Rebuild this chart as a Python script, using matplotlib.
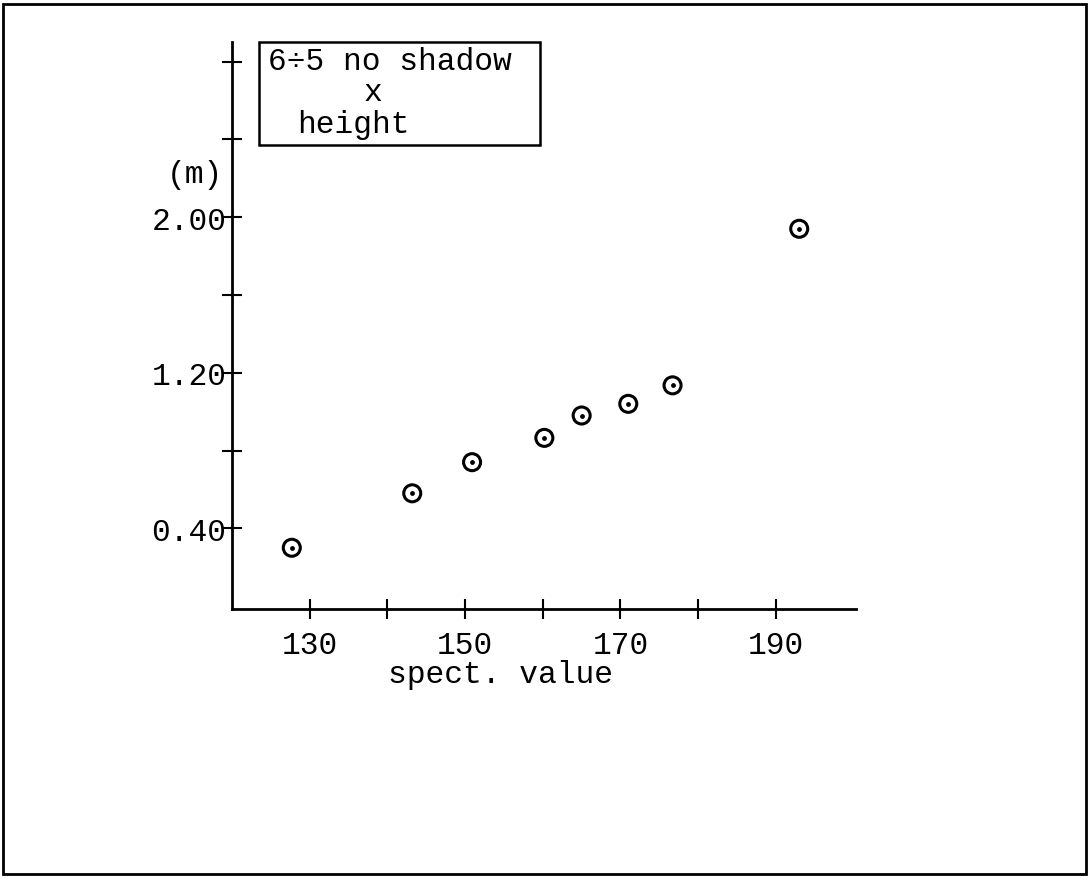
import matplotlib
matplotlib.use("Agg")
import matplotlib.pyplot as plt
from matplotlib.patches import Rectangle

plt.rcParams["font.family"] = ["Liberation Mono", "DejaVu Sans Mono"]

# spectral value vs height
spect = [127.7, 143.2, 150.9, 160.2, 165.0, 171.0, 176.7, 193.0]
height = [0.30, 0.58, 0.74, 0.865, 0.98, 1.04, 1.135, 1.94]

x_ticks = [130, 140, 150, 160, 170, 180, 190]
x_labels = ["130", "", "150", "", "170", "", "190"]
y_ticks = [0.4, 0.8, 1.2, 1.6, 2.0, 2.4, 2.8]
y_labels = ["0.40", "", "1.20", "", "2.00", "", ""]

FS = 22.5

fig = plt.figure(figsize=(10.89, 8.79), dpi=100)
ax = fig.add_axes([0.213, 0.306, 0.573, 0.645])

# circle with a dot in the middle
ax.scatter(spect, height, s=150, facecolors="none", edgecolors="black",
           linewidths=2.2, zorder=3)
ax.scatter(spect, height, s=6, color="black", zorder=4)

ax.set_xlim(120, 200.3)
ax.set_ylim(-0.015, 2.9)

for s in ["top", "right"]:
    ax.spines[s].set_visible(False)
for s in ["left", "bottom"]:
    ax.spines[s].set_linewidth(2.0)

ax.set_xticks(x_ticks)
ax.set_xticklabels(x_labels)
ax.set_yticks(y_ticks)
ax.set_yticklabels(y_labels)
ax.tick_params(axis="both", direction="inout", length=14, width=1.5,
               labelsize=FS)
ax.tick_params(axis="x", pad=8)
ax.tick_params(axis="y", pad=-3)

ax.text(-0.014, 0.767, "(m)", transform=ax.transAxes, ha="right",
        va="center", fontsize=FS)
ax.text(0.43, -0.129, "spect. value", transform=ax.transAxes, ha="center",
        va="baseline", fontsize=FS)

# boxed caption in the top-left corner
ax.add_patch(Rectangle((0.043, 0.818), 0.451, 0.182, transform=ax.transAxes,
                       fill=False, edgecolor="black", linewidth=1.8,
                       clip_on=False))
ax.text(0.058, 0.952, "6÷5 no shadow", transform=ax.transAxes,
        va="baseline", fontsize=FS)
ax.text(0.226, 0.898, "x", transform=ax.transAxes, ha="center",
        va="baseline", fontsize=FS)
ax.text(0.104, 0.841, "height", transform=ax.transAxes,
        va="baseline", fontsize=FS)

# page frame
fig.patches.append(Rectangle((0.003, 0.004), 0.994, 0.990,
                             transform=fig.transFigure, fill=False,
                             edgecolor="black", linewidth=2.0))

fig.savefig("out.png", dpi=100)
